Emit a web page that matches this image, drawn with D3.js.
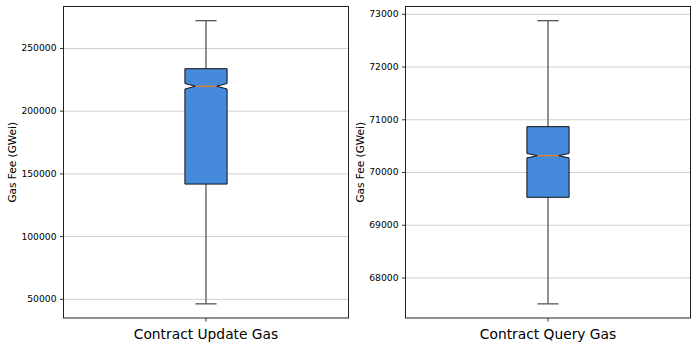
<!DOCTYPE html>
<html lang="en">
<head>
    <meta charset="UTF-8">
    <title>Gas Fee Box Plots</title>
    <script src="https://d3js.org/d3.v7.min.js"></script>
    <style>
        body {
            margin: 0;
            background-color: #ffffff;
            font-family: "DejaVu Sans", sans-serif;
        }
        .grid line { stroke: #c4c4c4; stroke-width: 0.8; }
        .grid path { display: none; }
    </style>
</head>
<body>
    <svg id="chart"></svg>

    <script>
        // one box per panel
        const categories = ["Contract Update Gas", "Contract Query Gas"];
        const whiskerLow = [46000, 67500];
        const q1Values = [141500, 69520];
        const medians = [219500, 70310];
        const q3Values = [233500, 70860];
        const whiskerHigh = [271800, 72870];
        const notchLow = [217300, 70268];
        const notchHigh = [221700, 70352];
        const yTicks = [
            [50000, 100000, 150000, 200000, 250000],
            [68000, 69000, 70000, 71000, 72000, 73000]
        ];

        const W = 697, H = 348;
        const panels = [
            { left: 63.5, right: 348.5, labelX: 12 },
            { left: 405.5, right: 690.5, labelX: 360 }
        ];
        const plotTop = 6.5, plotBottom = 318;

        const svg = d3.select("#chart")
            .attr("width", W)
            .attr("height", H);

        categories.forEach((cat, i) => {
            const p = panels[i];
            const pw = p.right - p.left;
            const ph = plotBottom - plotTop;

            const g = svg.append("g")
                .attr("transform", `translate(${p.left},${plotTop})`);

            // matplotlib style 5% padding around the whiskers
            const lo = whiskerLow[i], hi = whiskerHigh[i];
            const pad = (hi - lo) * 0.05;
            const y = d3.scaleLinear()
                .domain([lo - pad, hi + pad])
                .range([ph, 0]);

            const x = d3.scaleBand()
                .domain([cat])
                .range([0, pw]);

            // grid
            g.append("g")
                .attr("class", "grid")
                .call(d3.axisLeft(y).tickValues(yTicks[i]).tickSize(-pw).tickFormat(""));

            const cx = x(cat) + x.bandwidth() / 2;
            const bw = pw * 0.148;
            const x0 = cx - bw / 2, x1 = cx + bw / 2;
            const nx0 = cx - bw / 4, nx1 = cx + bw / 4;

            // whiskers
            g.append("line")
                .attr("x1", cx).attr("x2", cx)
                .attr("y1", y(q3Values[i])).attr("y2", y(whiskerHigh[i]))
                .attr("stroke", "#555").attr("stroke-width", 1.3);
            g.append("line")
                .attr("x1", cx).attr("x2", cx)
                .attr("y1", y(q1Values[i])).attr("y2", y(whiskerLow[i]))
                .attr("stroke", "#555").attr("stroke-width", 1.3);
            [whiskerHigh[i], whiskerLow[i]].forEach(v => {
                g.append("line")
                    .attr("x1", cx - bw / 4).attr("x2", cx + bw / 4)
                    .attr("y1", y(v)).attr("y2", y(v))
                    .attr("stroke", "#555").attr("stroke-width", 1.3);
            });

            // notched box
            const pts = [
                [x0, y(q1Values[i])],
                [x0, y(notchLow[i])],
                [nx0, y(medians[i])],
                [x0, y(notchHigh[i])],
                [x0, y(q3Values[i])],
                [x1, y(q3Values[i])],
                [x1, y(notchHigh[i])],
                [nx1, y(medians[i])],
                [x1, y(notchLow[i])],
                [x1, y(q1Values[i])]
            ];
            g.append("path")
                .attr("d", d3.line()(pts) + "Z")
                .attr("fill", "#4589db")
                .attr("stroke", "#111")
                .attr("stroke-width", 1);

            g.append("line")
                .attr("x1", nx0).attr("x2", nx1)
                .attr("y1", y(medians[i])).attr("y2", y(medians[i]))
                .attr("stroke", "#f07f1e").attr("stroke-width", 1.3);

            // axes
            const ya = g.append("g")
                .call(d3.axisLeft(y).tickValues(yTicks[i]).tickSize(3.5).tickPadding(3.5).tickFormat(d3.format("d")));
            ya.selectAll("text").attr("font-size", "9.2px").attr("font-family", "DejaVu Sans").attr("fill", "#000");
            ya.selectAll("line").attr("stroke", "#000").attr("stroke-width", 0.8);
            ya.select("path").remove();

            const xa = g.append("g")
                .attr("transform", `translate(0,${ph})`)
                .call(d3.axisBottom(x).tickSize(3.5).tickPadding(7.5));
            xa.selectAll("text").attr("font-size", "13.8px").attr("font-family", "DejaVu Sans").attr("fill", "#000");
            xa.selectAll("line").attr("stroke", "#000").attr("stroke-width", 0.8);
            xa.select("path").remove();

            // frame
            g.append("rect")
                .attr("width", pw).attr("height", ph)
                .attr("fill", "none")
                .attr("stroke", "#222").attr("stroke-width", 1);

            svg.append("text")
                .attr("transform", `translate(${p.labelX},${plotTop + ph / 2}) rotate(-90)`)
                .attr("text-anchor", "middle")
                .attr("dy", "0.35em")
                .attr("font-size", "10.5px")
                .attr("font-family", "DejaVu Sans")
                .text("Gas Fee (GWei)");
        });
    </script>
</body>
</html>
